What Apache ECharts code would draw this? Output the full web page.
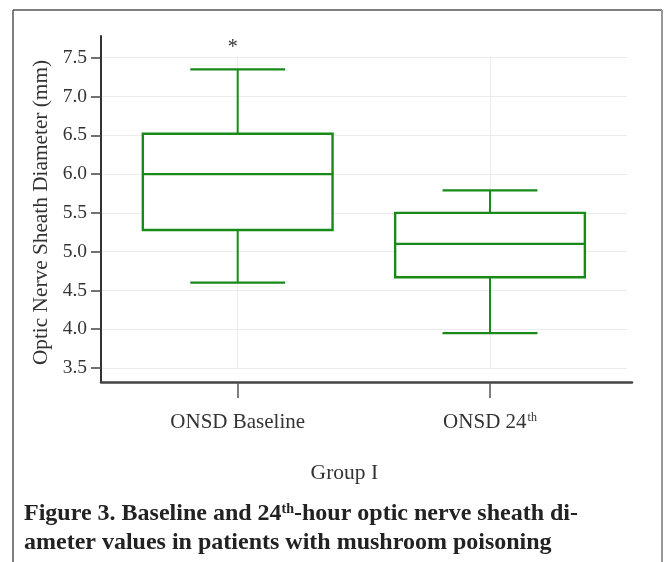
<!DOCTYPE html>
<html>
<head>
<meta charset="utf-8">
<script src="https://cdn.jsdelivr.net/npm/echarts@6/dist/echarts.min.js"></script>
<style>
  html, body { margin: 0; padding: 0; background: #ffffff; }
  #chart { width: 664px; height: 562px; }
</style>
</head>
<body>
<div id="chart"></div>
<script>
// ---- data ----
const categories = ['ONSD Baseline', 'ONSD 24th'];
const whiskerLow  = [4.60, 3.95];
const q1Values    = [5.28, 4.67];
const medians     = [6.00, 5.10];
const q3Values    = [6.52, 5.50];
const whiskerHigh = [7.35, 5.79];
const outliers    = [[0, 7.68]];          // [category index, value]  shown as "*"
const yTickValues = [3.5, 4.0, 4.5, 5.0, 5.5, 6.0, 6.5, 7.0, 7.5];
const yAxisTitle  = 'Optic Nerve Sheath Diameter (mm)';
const xAxisTitle  = 'Group I';
const captionLine1 = 'Figure 3. Baseline and 24{sup|th}-hour optic nerve sheath di-';
const captionLine2 = 'ameter values in patients with mushroom poisoning';

// ---- styles ----
const FONT = '"Liberation Serif", "DejaVu Serif", serif';
const GREEN = '#178a17';
const Y_MIN = 3.32, Y_MAX = 7.78;

const boxData = categories.map((c, i) =>
  [i, whiskerLow[i], q1Values[i], medians[i], q3Values[i], whiskerHigh[i]]);

const chart = echarts.init(document.getElementById('chart'), null, { renderer: 'canvas' });

const supFormatter = v => v.replace(/(\d+)th$/, '$1{sup|th}');

const option = {
  backgroundColor: '#ffffff',
  animation: false,
  grid: [
    { left: 101, right: 32, top: 36, bottom: 180 },       // axes frame
    { left: 101, right: 37, top: 57.7, bottom: 194 },     // grid lines
    { left: 111.55, right: 47.85, top: 36, bottom: 180 }  // boxes
  ],
  xAxis: [
    { gridIndex: 0, type: 'value', min: 0, max: 1,
      axisLine: { show: true, lineStyle: { color: '#444', width: 2.5 } },
      axisTick: { show: false }, axisLabel: { show: false }, splitLine: { show: false } },
    { gridIndex: 1, type: 'value', min: 0.4582, max: 2.543, splitNumber: 2,
      axisLine: { show: false }, axisTick: { show: false }, axisLabel: { show: false },
      splitLine: { show: true, showMinLine: false, showMaxLine: false,
                   lineStyle: { color: '#ececec', width: 1 } } },
    { gridIndex: 2, type: 'category', data: categories, boundaryGap: true,
      axisLine: { show: false },
      axisTick: { show: true, alignWithLabel: true, length: 16, lineStyle: { color: '#555', width: 1.5 } },
      axisLabel: { margin: 30, fontFamily: FONT, fontSize: 21, color: '#333',
                   formatter: supFormatter,
                   rich: { sup: { fontFamily: FONT, fontSize: 12, color: '#333', verticalAlign: 'top', padding: [0, 0, 7, 1] } } },
      splitLine: { show: false },
      name: xAxisTitle, nameLocation: 'middle', nameGap: 80,
      nameTextStyle: { fontFamily: FONT, fontSize: 21.5, color: '#333', padding: [0, 39, 0, 0] } }
  ],
  yAxis: [
    { gridIndex: 0, type: 'value', min: Y_MIN, max: Y_MAX,
      axisLine: { show: true, lineStyle: { color: '#333', width: 2 } },
      axisTick: { show: true, length: 10, customValues: yTickValues, lineStyle: { color: '#444', width: 1.5 } },
      axisLabel: { show: true, customValues: yTickValues, margin: 14, fontFamily: FONT, fontSize: 19.5, color: '#333',
                   formatter: v => Number(v).toFixed(1) },
      splitLine: { show: false },
      name: yAxisTitle, nameLocation: 'middle', nameGap: 47, nameRotate: 90,
      nameTextStyle: { fontFamily: FONT, fontSize: 21.3, color: '#333', padding: [0, 7, 0, 0] } },
    { gridIndex: 1, type: 'value', min: 3.5, max: 7.5, interval: 0.5,
      axisLine: { show: false }, axisTick: { show: false }, axisLabel: { show: false },
      splitLine: { show: true, lineStyle: { color: '#ececec', width: 1 } } },
    { gridIndex: 2, type: 'value', min: Y_MIN, max: Y_MAX, show: false }
  ],
  series: [
    {
      type: 'custom', xAxisIndex: 2, yAxisIndex: 2, data: boxData,
      encode: { x: 0, y: [1, 2, 3, 4, 5] },
      renderItem: function (params, api) {
        const x = api.value(0);
        const lo = api.coord([x, api.value(1)]);
        const q1 = api.coord([x, api.value(2)]);
        const md = api.coord([x, api.value(3)]);
        const q3 = api.coord([x, api.value(4)]);
        const hi = api.coord([x, api.value(5)]);
        const band = api.size([1, 0])[0];
        const bw = band * 0.752;
        const cw = bw / 2;
        const cx = lo[0];
        const ls = { stroke: GREEN, lineWidth: 2, fill: null };
        return {
          type: 'group',
          children: [
            { type: 'line', shape: { x1: cx, y1: hi[1], x2: cx, y2: q3[1] }, style: ls },
            { type: 'line', shape: { x1: cx, y1: q1[1], x2: cx, y2: lo[1] }, style: ls },
            { type: 'line', shape: { x1: cx - cw / 2, y1: hi[1], x2: cx + cw / 2, y2: hi[1] }, style: { stroke: GREEN, lineWidth: 2.2 } },
            { type: 'line', shape: { x1: cx - cw / 2, y1: lo[1], x2: cx + cw / 2, y2: lo[1] }, style: { stroke: GREEN, lineWidth: 2.2 } },
            { type: 'rect', shape: { x: cx - bw / 2, y: q3[1], width: bw, height: q1[1] - q3[1] },
              style: { stroke: GREEN, lineWidth: 2.4, fill: '#ffffff' } },
            { type: 'line', shape: { x1: cx - bw / 2, y1: md[1], x2: cx + bw / 2, y2: md[1] }, style: { stroke: GREEN, lineWidth: 2.2 } }
          ]
        };
      }
    },
    {
      type: 'custom', xAxisIndex: 2, yAxisIndex: 2, data: outliers,
      encode: { x: 0, y: 1 },
      renderItem: function (params, api) {
        const p = api.coord([api.value(0), api.value(1)]);
        return {
          type: 'text',
          style: { text: '*', x: p[0] - 5, y: p[1] + 4, align: 'center', verticalAlign: 'middle',
                   fontFamily: FONT, fontSize: 20, fill: '#333' }
        };
      }
    }
  ],
  graphic: [
    { type: 'line', shape: { x1: 13, y1: 10, x2: 662, y2: 10 }, style: { stroke: '#555', lineWidth: 1.5 } },
    { type: 'line', shape: { x1: 13, y1: 10, x2: 13, y2: 562 }, style: { stroke: '#555', lineWidth: 1.5 } },
    { type: 'line', shape: { x1: 662, y1: 10, x2: 662, y2: 562 }, style: { stroke: '#999', lineWidth: 2 } },
    { type: 'text', left: 24, top: 502,
      style: { text: captionLine1, fontFamily: FONT, fontSize: 24, fontWeight: 'bold', fill: '#222',
               rich: { sup: { fontFamily: FONT, fontSize: 14, fontWeight: 'bold', fill: '#222', verticalAlign: 'top' } } } },
    { type: 'text', left: 24, top: 531,
      style: { text: captionLine2, fontFamily: FONT, fontSize: 24, fontWeight: 'bold', fill: '#222' } }
  ]
};
chart.setOption(option);
</script>
</body>
</html>
